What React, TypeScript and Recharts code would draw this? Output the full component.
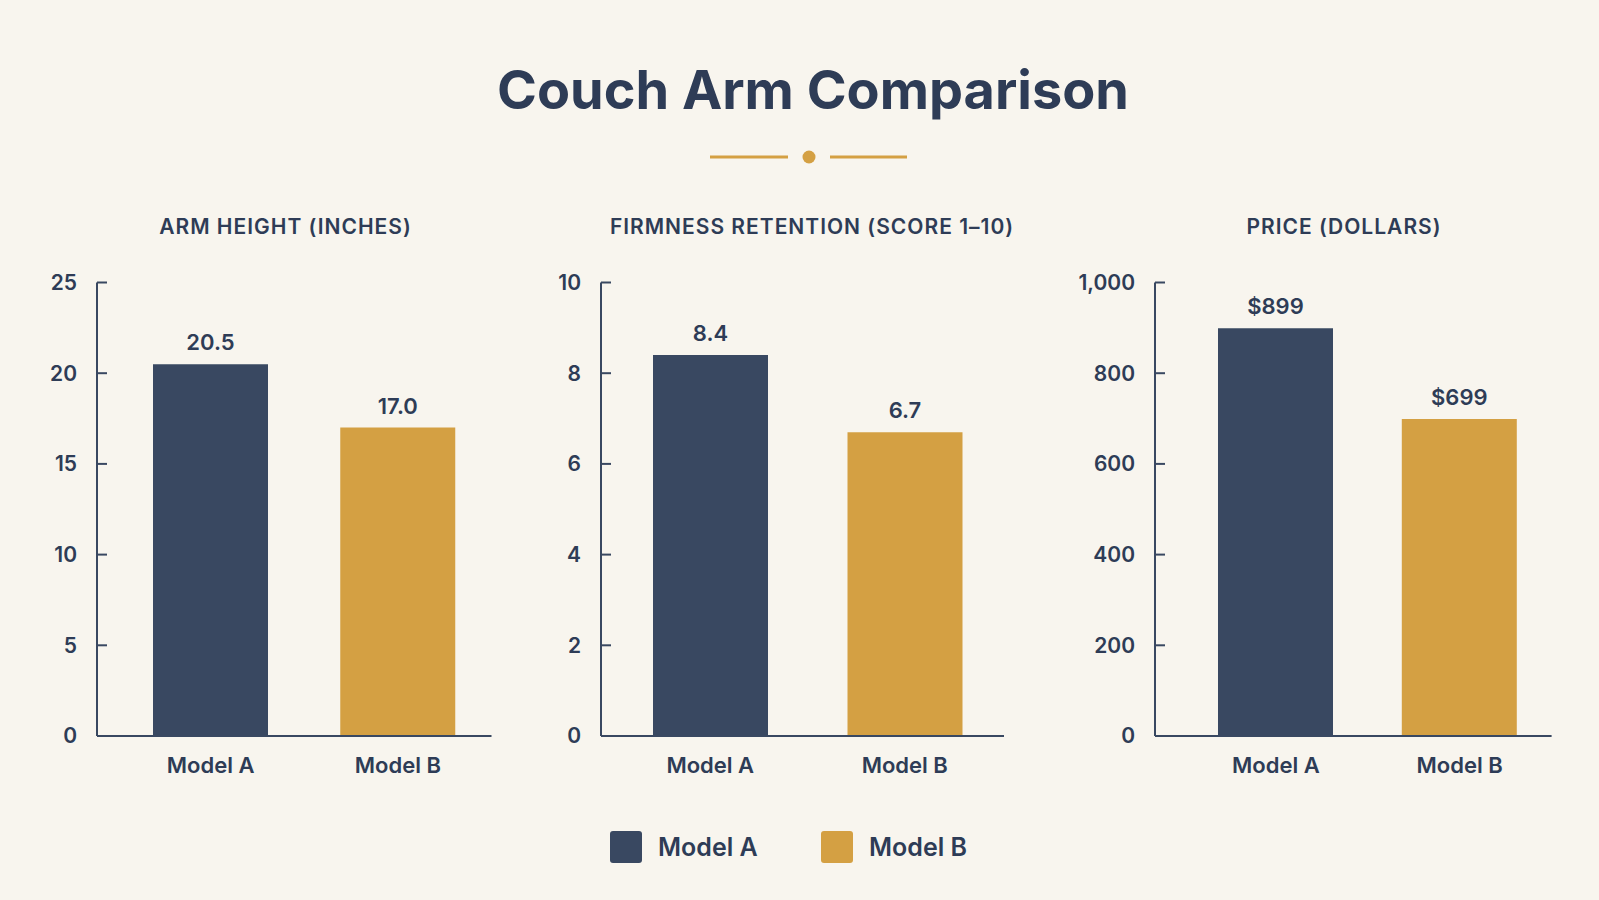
import { BarChart, Bar, XAxis, YAxis, Cell, LabelList } from 'recharts';

const categories = ['Model A', 'Model B'];
const armHeight = [20.5, 17.0];
const firmness = [8.4, 6.7];
const price = [899, 699];

const armTicks = [0, 5, 10, 15, 20, 25];
const firmTicks = [0, 2, 4, 6, 8, 10];
const priceTicks = [0, 200, 400, 600, 800, 1000];

const panelTitles = ['ARM HEIGHT (INCHES)', 'FIRMNESS RETENTION (SCORE 1–10)', 'PRICE (DOLLARS)'];

const NAVY = '#394861';
const GOLD = '#D4A043';
const INK = '#2E3C56';
const BG = '#F8F5EE';
const FONT = "Inter, 'Noto Sans', sans-serif";

const seriesColors = [NAVY, GOLD];

// layout of each small chart (axis x position, plot width, category padding, title centre)
const panels = [
  {
    values: armHeight, ticks: armTicks, domain: [0, 25],
    tickFmt: (v: number) => String(v), labelFmt: (v: number) => v.toFixed(1),
    axisX: 97, plotW: 394.5, pad: { left: 20, right: 0 }, titleX: 285.5,
  },
  {
    values: firmness, ticks: firmTicks, domain: [0, 10],
    tickFmt: (v: number) => String(v), labelFmt: (v: number) => v.toFixed(1),
    axisX: 600.7, plotW: 403, pad: { left: 12, right: 2 }, titleX: 812,
  },
  {
    values: price, ticks: priceTicks, domain: [0, 1000],
    tickFmt: (v: number) => v.toLocaleString('en-US'), labelFmt: (v: number) => '$' + v,
    axisX: 1155.4, plotW: 396.6, pad: { left: 29, right: 0 }, titleX: 1344,
  },
];

const Y_AXIS_W = 90;
const CHART_TOP = 240;
const MARGIN = { top: 42.5, right: 4, left: 0, bottom: 10 };
const CHART_H = 556;

function Panel({ cfg }: { cfg: (typeof panels)[number] }) {
  const data = categories.map((name, i) => ({ name, value: cfg.values[i] }));
  const width = Y_AXIS_W + cfg.plotW + MARGIN.right;
  return (
    <div style={{ position: 'absolute', left: cfg.axisX - Y_AXIS_W, top: CHART_TOP }}>
      <BarChart width={width} height={CHART_H} data={data} margin={MARGIN}>
        <XAxis
          dataKey="name"
          padding={cfg.pad}
          axisLine={{ stroke: NAVY, strokeWidth: 2 }}
          tickLine={false}
          tickSize={0}
          tickMargin={21}
          height={50}
          tick={{ fill: INK, fontSize: 22, fontWeight: 600, fontFamily: FONT }}
        />
        <YAxis
          width={Y_AXIS_W}
          domain={cfg.domain}
          ticks={cfg.ticks}
          interval={0}
          tickFormatter={cfg.tickFmt}
          axisLine={{ stroke: NAVY, strokeWidth: 2 }}
          tickLine={{ stroke: NAVY, strokeWidth: 2 }}
          tickSize={-10}
          tickMargin={30}
          tick={{ fill: INK, fontSize: 21, fontWeight: 600, fontFamily: FONT }}
        />
        <Bar dataKey="value" barSize={115} isAnimationActive={false}>
          {data.map((_, i) => (
            <Cell key={i} fill={seriesColors[i]} />
          ))}
          <LabelList
            dataKey="value"
            position="top"
            offset={14}
            formatter={(v: any) => cfg.labelFmt(Number(v))}
            fill={INK}
            fontSize={22}
            fontWeight={600}
            fontFamily={FONT}
          />
        </Bar>
      </BarChart>
    </div>
  );
}

export default function App() {
  return (
    <div style={{ position: 'absolute', left: 0, top: 0, width: 1599, height: 900, background: BG, overflow: 'hidden' }}>
      <svg width={1599} height={900} style={{ position: 'absolute', left: 0, top: 0 }}>
        <text x={813} y={109} textAnchor="middle" fill={INK} fontSize={54} fontWeight={700} fontFamily={FONT}>
          Couch Arm Comparison
        </text>
        <line x1={710} x2={788} y1={157} y2={157} stroke={GOLD} strokeWidth={3} />
        <circle cx={809} cy={157} r={6.5} fill={GOLD} />
        <line x1={830} x2={907} y1={157} y2={157} stroke={GOLD} strokeWidth={3} />
        {panels.map((p, i) => (
          <text key={i} x={p.titleX} y={233.5} textAnchor="middle" fill={INK} fontSize={21} fontWeight={600} fontFamily={FONT} letterSpacing={1}>
            {panelTitles[i]}
          </text>
        ))}
        {categories.map((c, i) => {
          const x = i === 0 ? 610 : 821;
          return (
            <g key={c}>
              <rect x={x} y={831} width={32} height={32} rx={3} fill={seriesColors[i]} />
              <text x={x + 48} y={856} fill={INK} fontSize={25} fontWeight={600} fontFamily={FONT}>
                {c}
              </text>
            </g>
          );
        })}
      </svg>
      {panels.map((p, i) => (
        <Panel key={i} cfg={p} />
      ))}
    </div>
  );
}
